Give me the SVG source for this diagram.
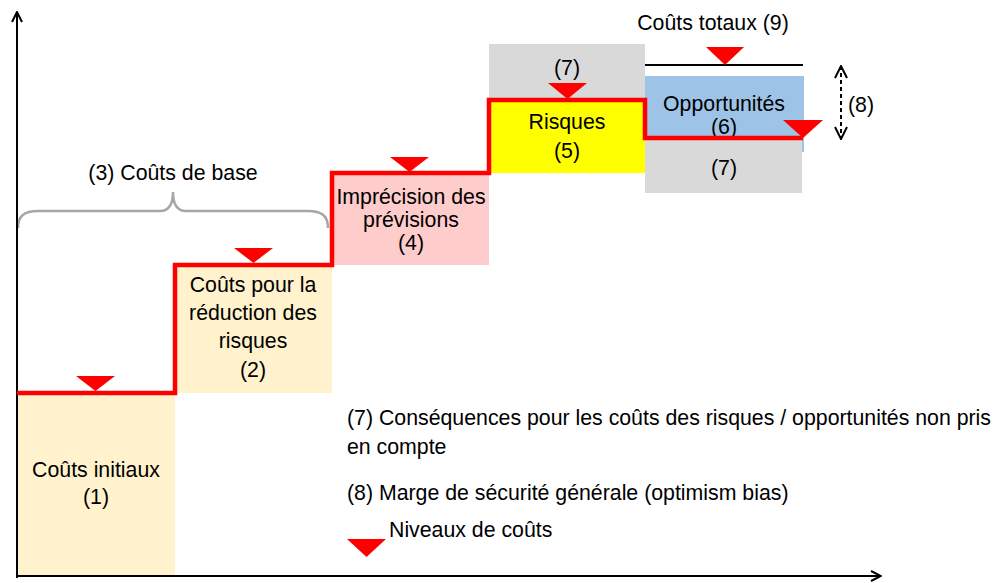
<svg xmlns="http://www.w3.org/2000/svg" width="996" height="583" viewBox="0 0 996 583">
<style>
text{font-family:"Liberation Sans",Arial,sans-serif;font-size:21.3px;fill:#000}
.c{text-anchor:middle}
.tri{fill:#FF0000}
.axis{stroke:#000;stroke-width:2;fill:none}
</style>
<defs>
<marker id="open" viewBox="0 0 12 12" refX="11" refY="6" markerWidth="12" markerHeight="12" markerUnits="userSpaceOnUse" orient="auto">
<path d="M1,1 L11,6 L1,11" fill="none" stroke="#000" stroke-width="2"/>
</marker>
<marker id="openThin" viewBox="0 0 14 14" refX="13" refY="7" markerWidth="14" markerHeight="14" markerUnits="userSpaceOnUse" orient="auto-start-reverse">
<path d="M1,1 L13,7 L1,13" fill="none" stroke="#000" stroke-width="2"/>
</marker>
</defs>
<rect width="996" height="583" fill="#fff"/>

<g id="box1"><rect x="17" y="393" width="158" height="184" fill="#FFF2CC"/>
<text class="c" x="96" y="477">Coûts initiaux</text><text class="c" x="96" y="504">(1)</text></g>

<g id="box2"><rect x="175" y="265" width="157" height="128" fill="#FFF2CC"/>
<text class="c" x="253" y="292">Coûts pour la</text><text class="c" x="253" y="320">réduction des</text><text class="c" x="253" y="348">risques</text><text class="c" x="253" y="377">(2)</text></g>

<g id="box4"><rect x="332" y="173" width="157" height="92" fill="#FFCCCC"/>
<text class="c" x="411" y="204">Imprécision des</text><text class="c" x="411" y="227">prévisions</text><text class="c" x="411" y="250">(4)</text></g>

<g id="box7top"><rect x="489" y="44" width="156" height="56" fill="#D9D9D9"/>
<text class="c" x="567" y="75">(7)</text></g>

<g id="box5"><rect x="489" y="100" width="156" height="73" fill="#FFFF00"/>
<text class="c" x="567" y="129">Risques</text><text class="c" x="567" y="158">(5)</text></g>

<g id="box6"><rect x="645" y="76" width="159" height="76" fill="#9DC3E6"/>
<text class="c" x="724" y="111">Opportunités</text><text class="c" x="724" y="134">(6)</text></g>

<g id="box7bottom"><rect x="645" y="140" width="157" height="53" fill="#D9D9D9"/>
<text class="c" x="724" y="175">(7)</text></g>

<g id="total"><line x1="645" y1="65" x2="803" y2="65" stroke="#000" stroke-width="2"/>
<text class="c" x="713" y="30">Coûts totaux (9)</text></g>

<g id="brace"><path d="M18,228 C18,216 24,211 38,211 L160,211 C168,211 173,205 173,192 C173,205 178,211 186,211 L308,211 C322,211 328,216 328,228" fill="none" stroke="#A6A6A6" stroke-width="2.5"/>
<text class="c" x="173" y="180">(3) Coûts de base</text></g>

<g id="connectors">
<line class="axis" x1="17" y1="578" x2="17" y2="12" marker-end="url(#open)"/>
<line class="axis" x1="16" y1="576" x2="881" y2="576" marker-end="url(#open)"/>
<polyline points="17,393 175,393 175,265 332,265 332,173 489,173 489,100 645,100 645,138 803,138" fill="none" stroke="#FF0000" stroke-width="4.5"/>
<line x1="841" y1="66" x2="841" y2="139" stroke="#000" stroke-width="2" stroke-dasharray="4,3" marker-start="url(#openThin)" marker-end="url(#openThin)"/>
</g>

<g id="levels">
<polygon class="tri" points="76,376 115,376 95.5,391"/>
<polygon class="tri" points="234,248 273,248 253.5,263"/>
<polygon class="tri" points="390,157 429,157 409.5,172"/>
<polygon class="tri" points="548,83 587,83 567.5,99"/>
<polygon class="tri" points="706,47 744,47 725,65"/>
<polygon class="tri" points="783,120 823,120 803,138"/>
</g>

<g id="label8"><text x="848" y="112">(8)</text></g>

<g id="legend">
<text x="347" y="425">(7) Conséquences pour les coûts des risques / opportunités non pris</text>
<text x="347" y="454">en compte</text>
<text x="347" y="500">(8) Marge de sécurité générale (optimism bias)</text>
<polygon class="tri" points="347,539 386,539 366.5,557"/>
<text x="389" y="537">Niveaux de coûts</text>
</g>
</svg>
